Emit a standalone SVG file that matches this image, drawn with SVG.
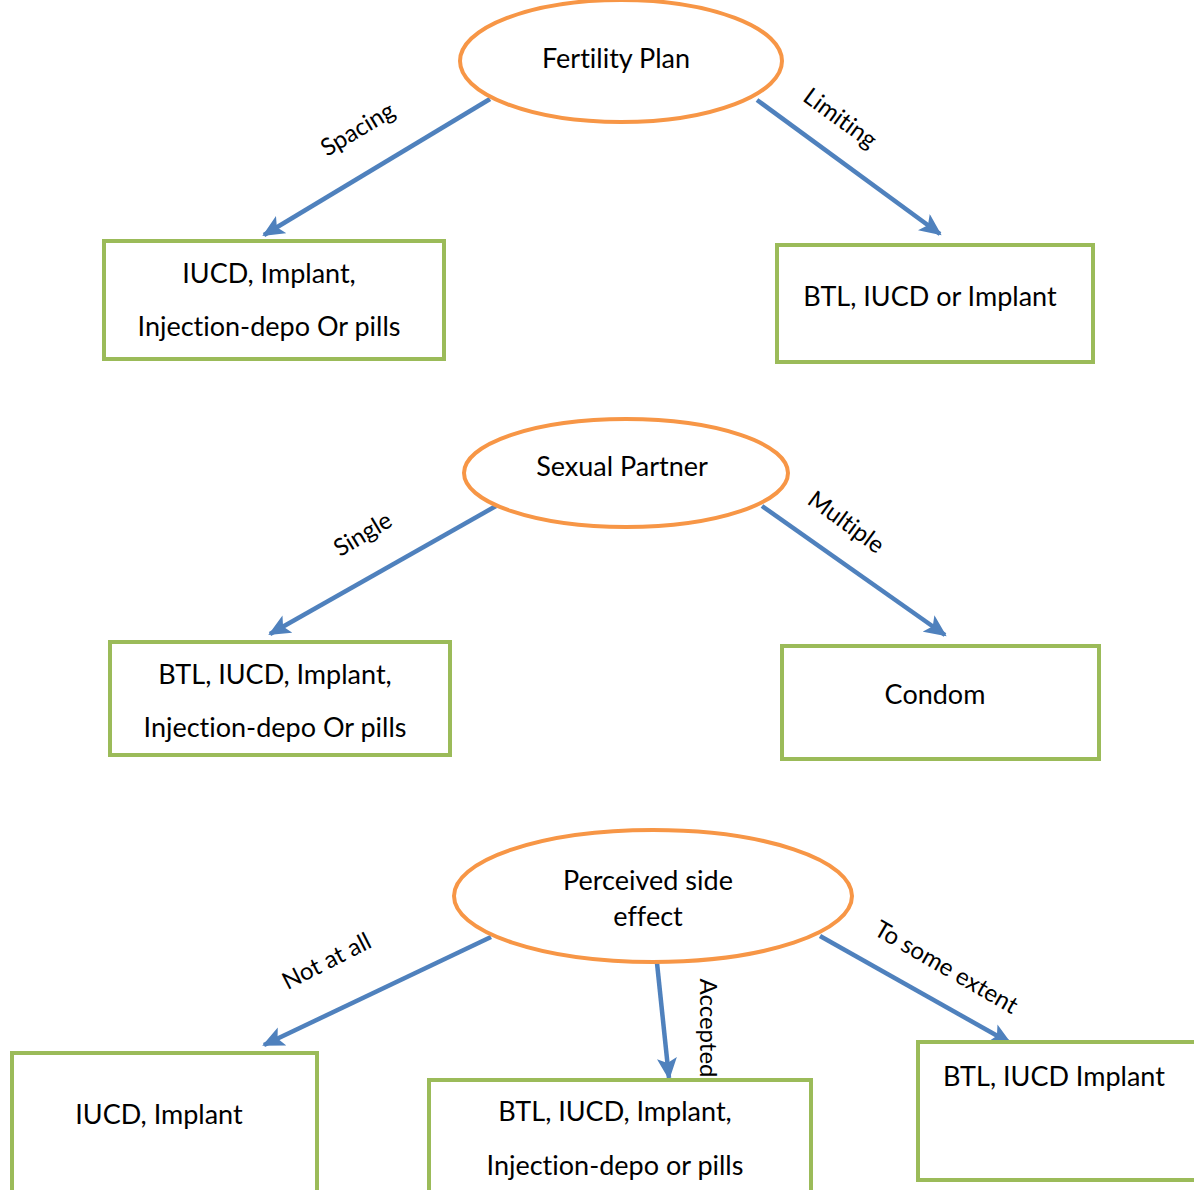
<svg xmlns="http://www.w3.org/2000/svg" width="1194" height="1190" viewBox="0 0 1194 1190">
  <style>
    .oval { fill: #ffffff; stroke: #F79646; stroke-width: 4; }
    .box { fill: #ffffff; stroke: #9BBB59; stroke-width: 4; }
    .txt { font-family: Lato, "Open Sans", sans-serif; font-size: 27px; fill: #000000; text-anchor: middle; dominant-baseline: central; font-variant-ligatures: none; }
    .lbl { font-family: Lato, "Open Sans", sans-serif; font-size: 24px; fill: #000000; text-anchor: middle; dominant-baseline: central; font-variant-ligatures: none; }
    .edge { stroke: #4F81BD; stroke-width: 4.5; fill: none; marker-end: url(#arrow); }
  </style>
  <defs>
    <marker id="arrow" markerUnits="userSpaceOnUse" markerWidth="24" markerHeight="20" refX="20" refY="10" orient="auto">
      <path d="M0,0 L22,10 L0,20 L5,10 Z" fill="#4F81BD"/>
    </marker>
  </defs>
  <rect width="1194" height="1190" fill="#ffffff"/>

  <!-- connectors -->
  <g id="connectors">
    <line class="edge" x1="490" y1="99" x2="264" y2="235"/>
    <line class="edge" x1="757" y1="100" x2="940" y2="234"/>
    <line class="edge" x1="496" y1="506" x2="270" y2="634"/>
    <line class="edge" x1="762" y1="506" x2="945" y2="635"/>
    <line class="edge" x1="491" y1="937" x2="264" y2="1045"/>
    <line class="edge" x1="657" y1="963" x2="669" y2="1078"/>
    <line class="edge" x1="820" y1="936" x2="1010" y2="1043"/>
    <text class="lbl" transform="translate(357,128) rotate(-31)">Spacing</text>
    <text class="lbl" transform="translate(841,117) rotate(36)">Limiting</text>
    <text class="lbl" transform="translate(362,533) rotate(-31)">Single</text>
    <text class="lbl" transform="translate(847,521) rotate(36)">Multiple</text>
    <text class="lbl" transform="translate(326,960) rotate(-27)">Not at all</text>
    <text class="lbl" transform="translate(709,1028) rotate(90)">Accepted</text>
    <text class="lbl" transform="translate(947,966) rotate(30)">To some extent</text>
  </g>

  <!-- fertility plan branch -->
  <g id="fertility-plan">
    <ellipse class="oval" cx="621" cy="61" rx="161" ry="61"/>
    <text class="txt" x="616" y="57">Fertility Plan</text>
  </g>
  <g id="spacing-methods">
    <rect class="box" x="104" y="241" width="340" height="118"/>
    <text class="txt" x="269" y="272">IUCD, Implant,</text>
    <text class="txt" x="269" y="325">Injection-depo Or pills</text>
  </g>
  <g id="limiting-methods">
    <rect class="box" x="777" y="245" width="316" height="117"/>
    <text class="txt" x="930" y="295">BTL, IUCD or Implant</text>
  </g>

  <!-- sexual partner branch -->
  <g id="sexual-partner">
    <ellipse class="oval" cx="626" cy="473" rx="162" ry="54"/>
    <text class="txt" x="622" y="465">Sexual Partner</text>
  </g>
  <g id="single-methods">
    <rect class="box" x="110" y="642" width="340" height="113"/>
    <text class="txt" x="275" y="673">BTL, IUCD, Implant,</text>
    <text class="txt" x="275" y="726">Injection-depo Or pills</text>
  </g>
  <g id="multiple-methods">
    <rect class="box" x="782" y="646" width="317" height="113"/>
    <text class="txt" x="935" y="693">Condom</text>
  </g>

  <!-- perceived side effect branch -->
  <g id="side-effect">
    <ellipse class="oval" cx="653" cy="896" rx="199" ry="66"/>
    <text class="txt" x="648" y="879">Perceived side</text>
    <text class="txt" x="648" y="915">effect</text>
  </g>
  <g id="not-at-all-methods">
    <rect class="box" x="12" y="1053" width="305" height="150"/>
    <text class="txt" x="159" y="1113">IUCD, Implant</text>
  </g>
  <g id="accepted-methods">
    <rect class="box" x="429" y="1080" width="382" height="130"/>
    <text class="txt" x="615" y="1110">BTL, IUCD, Implant,</text>
    <text class="txt" x="615" y="1164">Injection-depo or pills</text>
  </g>
  <g id="some-extent-methods">
    <rect class="box" x="918" y="1042" width="290" height="138"/>
    <text class="txt" x="1054" y="1075">BTL, IUCD Implant</text>
  </g>
</svg>
